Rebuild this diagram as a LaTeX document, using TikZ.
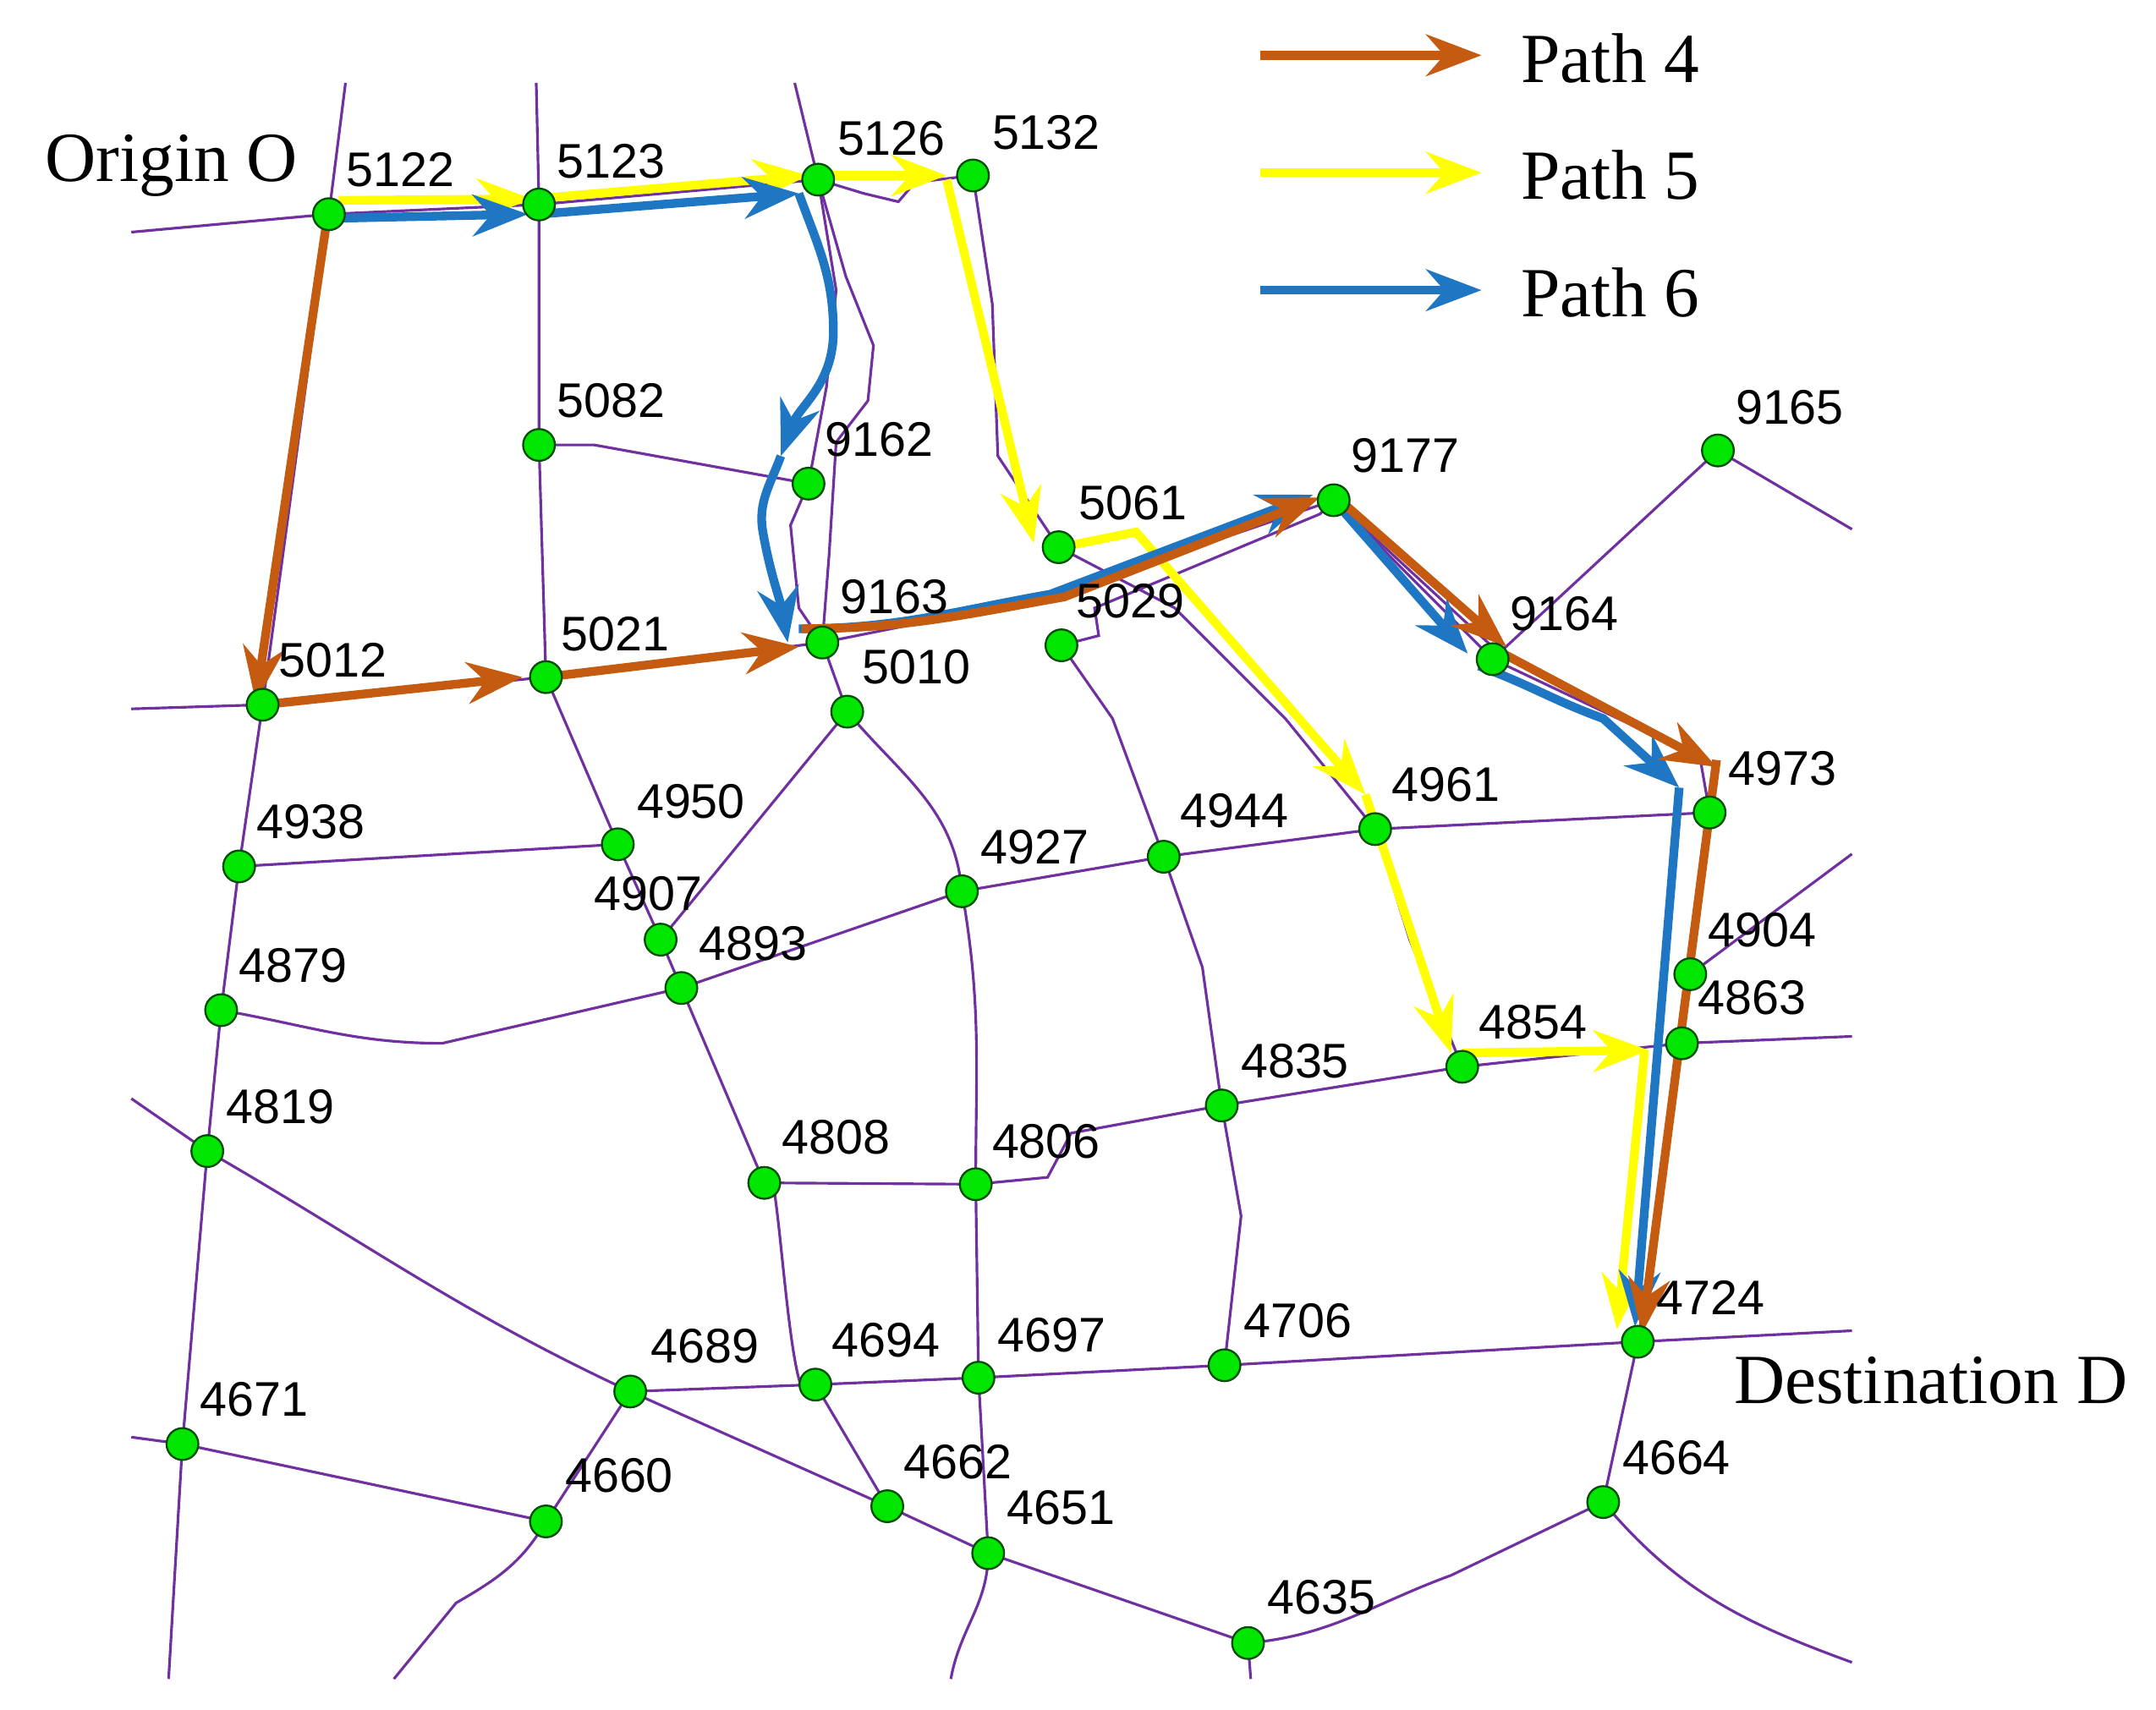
\documentclass[tikz,border=0pt]{standalone}
\usepackage{fontspec}
\setmainfont{Liberation Serif}
\newfontfamily\numfont{Liberation Sans}
\usetikzlibrary{arrows.meta}
\definecolor{road}{RGB}{112,48,160}
\definecolor{pfour}{RGB}{197,90,17}
\definecolor{pfive}{RGB}{255,255,0}
\definecolor{psix}{RGB}{31,119,196}
\definecolor{ngreen}{RGB}{0,230,0}
\tikzset{
 rd/.style={road,line width=0.55pt},
 jn/.style={circle,fill=ngreen,draw=black!70!green,line width=0.4pt,minimum size=2.3mm,inner sep=0pt},
 lb/.style={font=\numfont\fontsize{10}{12}\selectfont,inner sep=0pt},
 pth/.style={line width=1.8pt,-{Stealth[length=4mm,width=3mm]}},
 big/.style={font=\fontsize{14.5}{16}\selectfont,inner sep=0pt}
}
\newcommand{\jnode}[5]{\node[jn] (n#1) at (#2,#3) {}; \node[lb] (l#1) at (#4,#5) {#1};}
\begin{document}
\begin{tikzpicture}[x={(0.01cm,0)},y={(0,-0.01cm)}]
\useasboundingbox (0,0) rectangle (1560,1237);
% coordinates of junctions
\coordinate (c5122) at (238,155); \coordinate (c5123) at (390,148); \coordinate (c5126) at (592,130);
\coordinate (c5132) at (704,127); \coordinate (c5082) at (390,322); \coordinate (c9162) at (585,350);
\coordinate (c5061) at (766,396); \coordinate (c9177) at (965,362); \coordinate (c9165) at (1243,326);
\coordinate (c9163) at (595,465); \coordinate (c5029) at (768,467); \coordinate (c5012) at (190,510);
\coordinate (c5021) at (395,490); \coordinate (c5010) at (613,515); \coordinate (c9164) at (1080,477);
\coordinate (c4973) at (1237,588); \coordinate (c4938) at (173,627); \coordinate (c4950) at (447,611);
\coordinate (c4907) at (478,680); \coordinate (c4893) at (493,715); \coordinate (c4927) at (696,645);
\coordinate (c4944) at (842,620); \coordinate (c4961) at (995,600); \coordinate (c4904) at (1223,705);
\coordinate (c4863) at (1217,755); \coordinate (c4879) at (160,731); \coordinate (c4819) at (150,833);
\coordinate (c4854) at (1058,772); \coordinate (c4835) at (884,800); \coordinate (c4808) at (553,856);
\coordinate (c4806) at (706,857); \coordinate (c4724) at (1185,971); \coordinate (c4706) at (886,988);
\coordinate (c4697) at (708,997); \coordinate (c4694) at (590,1002); \coordinate (c4689) at (456,1007);
\coordinate (c4671) at (132,1045); \coordinate (c4660) at (395,1101); \coordinate (c4662) at (642,1090);
\coordinate (c4651) at (715,1124); \coordinate (c4664) at (1160,1087); \coordinate (c4635) at (903,1189);
% roads
\draw[rd] (95,168) -- (c5122) -- (c5123) -- (c5126) -- (625,140) -- (650,146) -- (662,132) -- (c5132);
\draw[rd] (250,60) -- (c5122) -- (c5012) -- (c4938) -- (c4879) -- (c4819) -- (c4671) -- (122,1215);
\draw[rd] (388,60) -- (c5123) -- (c5082) -- (c5021) -- (c4950) -- (c4907) -- (c4893) -- (c4808) to[out=80,in=-110] (c4694) -- (c4662);
\draw[rd] (575,60) -- (c5126) -- (612,200) -- (632,250) -- (628,290) -- (605,320) -- (600,400) -- (c9163);
\draw[rd] (c5126) -- (605,210) -- (598,280) -- (c9162) -- (572,380) -- (578,440) -- (c9163);
\draw[rd] (c5082) -- (430,322) -- (c9162);
\draw[rd] (c5132) -- (718,220) -- (722,330) -- (c5061) -- (850,440) -- (930,520) -- (c4961) -- (1020,680) -- (c4854);
\draw[rd] (c5029) -- (795,460) -- (792,440) -- (955,372) -- (c9177);
\draw[rd] (c5029) -- (805,520) -- (c4944) -- (870,700) -- (c4835) -- (898,880) -- (c4706);
\draw[rd] (c9163) -- (760,432) -- (c9177) -- (c9164) -- (1230,548) -- (c4973);
\draw[rd] (c9177) -- (1082,470);
\draw[rd] (c9164) -- (c9165) -- (1340,383);
\draw[rd] (c4973) -- (c4904) -- (c4863) -- (1200,880) -- (c4724) -- (c4664) to[out=-50,in=160] (1340,1203);
\draw[rd] (c4904) -- (1340,618);
\draw[rd] (c4854) -- (c4863) -- (1340,750);
\draw[rd] (95,513) -- (c5012) -- (c5021) -- (c9163) -- (c5010);
\draw[rd] (c5010) -- (c4907);
\draw[rd] (c5010) to[out=-50,in=95] (c4927) to[out=-80,in=90] (c4806) -- (c4697) -- (c4651) to[out=-90,in=80] (688,1215);
\draw[rd] (c4938) -- (c4950);
\draw[rd] (c4893) -- (c4927) -- (c4944) -- (c4961) -- (c4973);
\draw[rd] (c4879) to[out=-10,in=180] (320,755) -- (c4893);
\draw[rd] (95,795) -- (c4819) to[out=-30,in=155] (c4689) -- (c4662) -- (c4651) -- (c4635) to[out=5,in=200] (1050,1140) -- (c4664);
\draw[rd] (c4808) -- (c4806) -- (758,852) -- (775,820) -- (c4835) -- (c4854);
\draw[rd] (c4689) -- (c4694) -- (c4697) -- (c4706) -- (c4724) -- (1340,963);
\draw[rd] (95,1040) -- (c4671) -- (c4660) to[out=-120,in=30] (330,1160) -- (285,1215);
\draw[rd] (c4689) -- (c4660);
\draw[rd] (c4635) -- (905,1215);
% paths
\draw[pfive,pth] (245,145) -- (385,144);
\draw[pfive,pth] (385,144) -- (585,127);
\draw[pfive,pth] (592,127) -- (685,127);
\draw[pfive,pth] (685,130) -- (748,393);
\draw[pfive,pth] (768,396) -- (822,385) -- (988,575);
\draw[pfive,pth] (988,575) -- (1050,762);
\draw[pfive,pth] (1058,762) -- (1193,760);
\draw[pfive,pth] (1190,760) -- (1170,962);
\draw[psix,pth] (242,158) -- (382,155);
\draw[psix,pth] (390,155) -- (578,140);
\draw[psix,pth] (578,140) to[out=-70,in=90] (603,240) to[out=-90,in=70] (565,330);
\draw[psix,pth] (565,330) to[out=-110,in=100] (552,385) to[out=-80,in=100] (570,465);
\draw[psix,pth] (578,455) to[out=0,in=190] (760,430) -- (950,358);
\draw[psix,pth] (965,362) -- (1062,473);
\draw[psix,pth] (1070,482) to[out=-20,in=160] (1160,520) -- (1215,570);
\draw[psix,pth] (1215,570) -- (1183,960);
\draw[pfour,pth] (236,163) -- (185,508);
\draw[pfour,pth] (190,510) -- (378,490);
\draw[pfour,pth] (395,490) -- (578,468);
\draw[pfour,pth] (580,455) to[out=0,in=190] (770,432) -- (955,360);
\draw[pfour,pth] (965,358) -- (1090,468);
\draw[pfour,pth] (1082,470) -- (1242,555);
\draw[pfour,pth] (1242,550) -- (1188,965);
% junctions
\foreach \n/\lx/\ly in {5122/290/123,5123/442/117,5126/645/100,5132/757/96,5082/442/290,9162/636/318,
 5061/820/364,9177/1017/330,9165/1295/295,9163/647/432,5029/818/435,5012/241/478,5021/445/459,
 5010/663/483,9164/1132/444,4973/1290/556,4938/225/595,4950/500/580,4907/469/647,4893/545/683,
 4927/749/613,4944/893/587,4961/1046/568,4904/1275/673,4863/1268/722,4879/212/699,4819/203/801,
 4854/1109/740,4835/937/768,4808/605/823,4806/757/826,4724/1238/939,4706/939/956,4697/761/966,
 4694/641/970,4689/510/974,4671/184/1013,4660/448/1068,4662/693/1058,4651/768/1091,4664/1213/1055,4635/956/1156}
 {\node[jn] (n\n) at (c\n) {}; \node[lb] (l\n) at (\lx,\ly) {\n};}
% texts
\node[big] (orig) at (124,120) {Origin O};
\node[big] (dest) at (1397,999) {Destination D};
% legend
\coordinate (a4) at (912,40); \coordinate (b4) at (1072,40);
\coordinate (a5) at (912,125); \coordinate (b5) at (1072,125);
\coordinate (a6) at (912,210); \coordinate (b6) at (1072,210);
\draw[pfour,pth] (a4) -- (b4); \draw[pfive,pth] (a5) -- (b5); \draw[psix,pth] (a6) -- (b6);
\node[big,anchor=west] (t4) at (1100,42) {Path 4};
\node[big,anchor=west] (t5) at (1100,127) {Path 5};
\node[big,anchor=west] (t6) at (1100,212) {Path 6};
\end{tikzpicture}
\end{document}
